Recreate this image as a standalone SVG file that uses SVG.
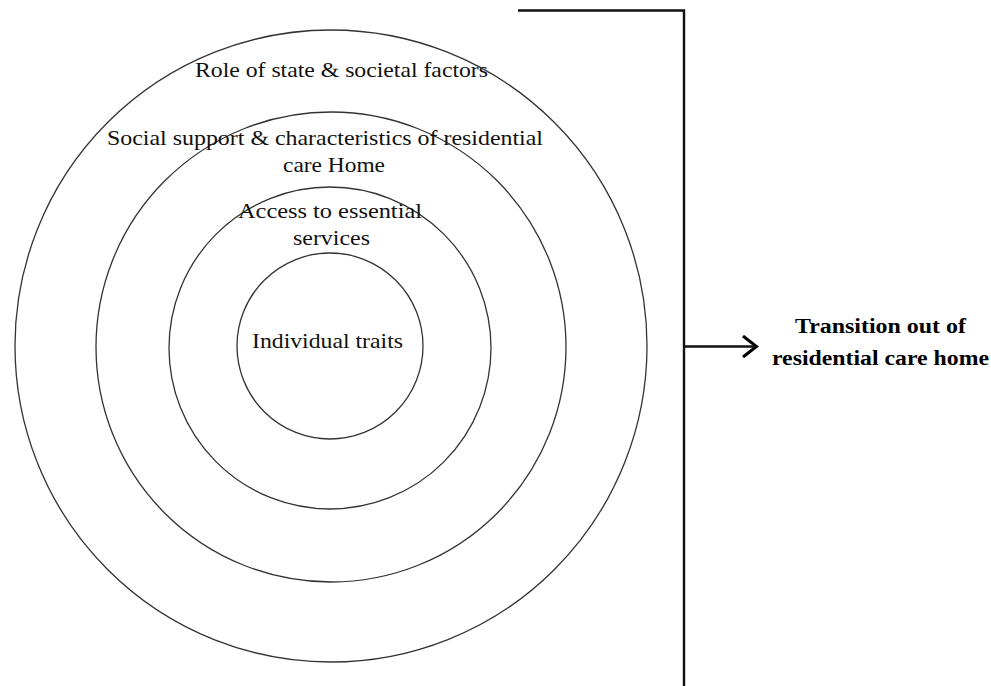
<svg xmlns="http://www.w3.org/2000/svg" width="991" height="686" viewBox="0 0 991 686">
<style>
.ring{fill:none;stroke:#333;stroke-width:1.3}
.t{font-family:"Liberation Serif","Times New Roman",serif;font-size:21.5px;fill:#111;text-anchor:middle}
.b{font-family:"Liberation Serif","Times New Roman",serif;font-size:20.5px;font-weight:bold;fill:#000;text-anchor:middle}
.ln{stroke:#111;stroke-width:2.4;fill:none}
</style>
<defs>
<marker id="arr" markerWidth="18" markerHeight="26" refX="16" refY="12" orient="auto" markerUnits="userSpaceOnUse">
<path d="M2,1.5 L15.5,12 L2,22.5" fill="none" stroke="#000" stroke-width="3"/>
</marker>
</defs>
<rect width="991" height="686" fill="#fff"/>
<g id="outer">
<circle class="ring" cx="331" cy="346" r="316"/>
<text class="t" x="341.5" y="77" textLength="293" lengthAdjust="spacingAndGlyphs">Role of state &amp; societal factors</text>
</g>
<g id="social">
<circle class="ring" cx="331" cy="347" r="235"/>
<text class="t" x="325" y="145" textLength="436" lengthAdjust="spacingAndGlyphs">Social support &amp; characteristics of  residential</text>
<text class="t" x="334" y="172" textLength="102" lengthAdjust="spacingAndGlyphs">care Home</text>
</g>
<g id="access">
<circle class="ring" cx="330" cy="348" r="161"/>
<text class="t" x="330" y="218" textLength="184" lengthAdjust="spacingAndGlyphs">Access to essential</text>
<text class="t" x="331.5" y="245" textLength="77" lengthAdjust="spacingAndGlyphs">services</text>
</g>
<g id="individual">
<circle class="ring" cx="330" cy="346" r="93"/>
<text class="t" x="327.5" y="348" textLength="151" lengthAdjust="spacingAndGlyphs">Individual traits</text>
</g>
<g id="connectors">
<path class="ln" d="M518,10.5 H684 V686"/>
<line class="ln" x1="684" y1="346.5" x2="757" y2="346.5" marker-end="url(#arr)"/>
</g>
<g id="transition">
<text class="b" x="880.5" y="332.5" textLength="171" lengthAdjust="spacingAndGlyphs">Transition out of</text>
<text class="b" x="880.5" y="365" textLength="217" lengthAdjust="spacingAndGlyphs">residential care home</text>
</g>
</svg>
